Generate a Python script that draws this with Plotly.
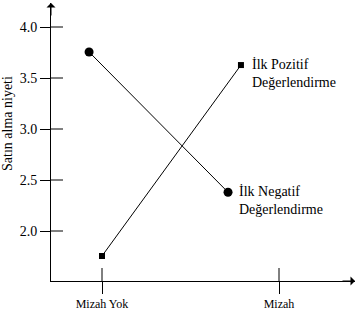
import plotly.graph_objects as go

# ---- data ----
categories = ["Mizah Yok", "Mizah"]
cat_pos = [0, 1]
y_ticks = [2.0, 2.5, 3.0, 3.5, 4.0]
y_ticklabels = ["2.0", "2.5", "3.0", "3.5", "4.0"]

pos_name = "İlk Pozitif<br>Değerlendirme"
pos_x = [0.0, 0.785]
pos_y = [1.755, 3.627]

neg_name = "İlk Negatif<br>Değerlendirme"
neg_x = [-0.073, 0.712]
neg_y = [3.755, 2.38]

y_title = "Satın alma niyeti"

FONT = "Liberation Serif"
W, H = 358, 314
ml, mr, mt, mb = 51, 3, 3, 33
pw, ph = W - ml - mr, H - mt - mb

x_range = [-51 / 177, 253 / 177]
y_range = [4.0 - 254 / 102, 4.0 + 24 / 102]

fig = go.Figure()
fig.add_trace(go.Scatter(x=neg_x, y=neg_y, mode="lines+markers",
                         line=dict(color="black", width=1),
                         marker=dict(symbol="circle", size=9, color="black"),
                         showlegend=False, cliponaxis=False))
fig.add_trace(go.Scatter(x=pos_x, y=pos_y, mode="lines+markers",
                         line=dict(color="black", width=1),
                         marker=dict(symbol="square", size=6, color="black"),
                         showlegend=False, cliponaxis=False))

shapes = []
for v in y_ticks:
    shapes.append(dict(type="line", xref="paper", yref="y", x0=0, x1=12 / pw,
                       y0=v, y1=v, line=dict(color="black", width=1)))
for v in cat_pos:
    shapes.append(dict(type="line", xref="x", yref="paper", x0=v, x1=v,
                       y0=0, y1=13 / ph, line=dict(color="black", width=1)))

annotations = [
    dict(x=pos_x[-1], y=pos_y[-1], xref="x", yref="y", text=pos_name,
         showarrow=False, xanchor="left", yanchor="top", align="left",
         xshift=9, yshift=10, font=dict(family=FONT, size=14, color="black")),
    dict(x=neg_x[-1], y=neg_y[-1], xref="x", yref="y", text=neg_name,
         showarrow=False, xanchor="left", yanchor="top", align="left",
         xshift=9, yshift=10, font=dict(family=FONT, size=14, color="black")),
    dict(x=(8 - ml) / pw, y=(H - mb - 124) / ph, xref="paper", yref="paper",
         xanchor="center", yanchor="middle",
         text=y_title, showarrow=False, textangle=-90,
         font=dict(family=FONT, size=14, color="black")),
    # axis arrows
    dict(x=x_range[1], y=y_range[0], xref="x", yref="y", ax=-14, ay=0,
         text="", showarrow=True, arrowhead=1, arrowsize=1.5, arrowwidth=1,
         arrowcolor="black"),
    dict(x=x_range[0], y=y_range[1], xref="x", yref="y", ax=0, ay=14,
         text="", showarrow=True, arrowhead=1, arrowsize=1.5, arrowwidth=1,
         arrowcolor="black"),
]

fig.update_layout(
    width=W, height=H,
    margin=dict(l=ml, r=mr, t=mt, b=mb),
    paper_bgcolor="white", plot_bgcolor="white",
    font=dict(family=FONT, color="black"),
    shapes=shapes, annotations=annotations,
    xaxis=dict(range=x_range, showgrid=False, zeroline=False, showline=True,
               linecolor="black", linewidth=1, tickvals=cat_pos,
               ticktext=categories, ticks="outside", ticklen=12,
               tickcolor="black", tickwidth=1,
               tickfont=dict(family=FONT, size=12, color="black")),
    yaxis=dict(range=y_range, showgrid=False, zeroline=False, showline=True,
               linecolor="black", linewidth=1, tickvals=y_ticks,
               ticktext=y_ticklabels, ticks="outside", ticklen=10,
               tickcolor="black", tickwidth=1,
               tickfont=dict(family=FONT, size=14, color="black")),
)

fig.write_html("out.html")
